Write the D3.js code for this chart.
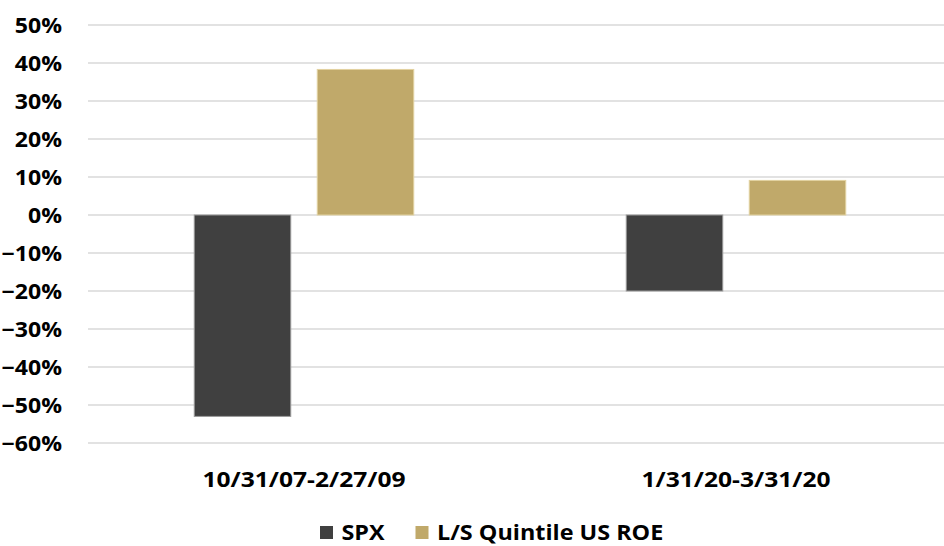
<!DOCTYPE html>
<html>
<head>
<meta charset="utf-8">
<script src="https://cdn.jsdelivr.net/npm/d3@7"></script>
<style>
  html, body { margin: 0; padding: 0; background: #fff; }
  svg { display: block; }
  text { font-family: "Open Sans", "Liberation Sans", sans-serif; font-weight: 700; fill: #000; }
</style>
</head>
<body>
<svg id="chart" width="944" height="546"></svg>
<script>
// Periods and series
const periods = ["10/31/07-2/27/09", "1/31/20-3/31/20"];
const seriesNames = ["SPX", "L/S Quintile US ROE"];
const spx = [-0.53, -0.20];
const lsRoe = [0.383, 0.091];
const yTicks = [0.5, 0.4, 0.3, 0.2, 0.1, 0, -0.1, -0.2, -0.3, -0.4, -0.5, -0.6];
const colors = ["#404040", "#c0a96a"];
const edgeColors = ["#9a9a9a", "#e2d2a0"];

const rows = periods.map((p, i) => ({ period: p, values: [spx[i], lsRoe[i]] }));

const svg = d3.select("#chart");
const W = 944, H = 546;

const y = d3.scaleLinear().domain([-0.6, 0.5]).range([443, 25]);
const x0 = d3.scaleBand().domain(periods).range([88, 952]).padding(0);
const x1 = d3.scaleBand().domain(seriesNames).range([106.25, 325.75]).paddingInner(0.2154).paddingOuter(0);

// Stretch a text element horizontally by a factor
function widen(sel, k) {
  sel.each(function() {
    const w = this.getComputedTextLength();
    d3.select(this).attr("textLength", w * k).attr("lengthAdjust", "spacingAndGlyphs");
  });
}

// Gridlines
svg.append("g")
  .selectAll("line")
  .data(yTicks)
  .join("line")
  .attr("x1", 88).attr("x2", W)
  .attr("y1", d => y(d)).attr("y2", d => y(d))
  .attr("stroke", "#d9d9d9")
  .attr("stroke-width", 1.5);

// Y axis labels
const fmt = d3.format(".0%");
const yAxis = d3.axisLeft(y).tickValues(yTicks).tickFormat(fmt).tickSize(0).tickPadding(0);
const yg = svg.append("g").attr("transform", "translate(62,0)").call(yAxis);
yg.select(".domain").remove();
yg.selectAll("text")
  .attr("font-family", null)
  .style("font-size", "21px")
  .attr("dy", "0.36em")
  .attr("x", 0)
  .call(widen, 1.1);

// Bars
const groups = svg.append("g")
  .selectAll("g")
  .data(rows)
  .join("g")
  .attr("transform", d => `translate(${x0(d.period)},0)`);

groups.selectAll("rect")
  .data(d => d.values.map((v, i) => ({ key: seriesNames[i], value: v, i })))
  .join("rect")
  .attr("x", d => x1(d.key))
  .attr("width", x1.bandwidth())
  .attr("y", d => y(Math.max(0, d.value)))
  .attr("height", d => Math.abs(y(d.value) - y(0)))
  .attr("fill", d => colors[d.i])
  .attr("stroke", d => edgeColors[d.i])
  .attr("stroke-width", 1);

// Category labels
const xAxis = d3.axisBottom(x0).tickSize(0).tickPadding(0);
const xg = svg.append("g").attr("transform", "translate(0,487)").call(xAxis);
xg.select(".domain").remove();
xg.selectAll("text")
  .attr("font-family", null)
  .attr("dy", 0)
  .attr("y", 0)
  .style("font-size", "21px")
  .call(widen, 1.17);

// Legend
const legendX = [320, 415.5];
const legend = svg.append("g")
  .selectAll("g")
  .data(seriesNames)
  .join("g")
  .attr("transform", (d, i) => `translate(${legendX[i]},526)`);
legend.append("rect")
  .attr("width", 13).attr("height", 13)
  .attr("fill", (d, i) => colors[i]);
legend.append("text")
  .attr("x", 21.5)
  .attr("y", 14)
  .style("font-size", "20.5px")
  .text(d => d)
  .call(widen, 1.14);
</script>
</body>
</html>
